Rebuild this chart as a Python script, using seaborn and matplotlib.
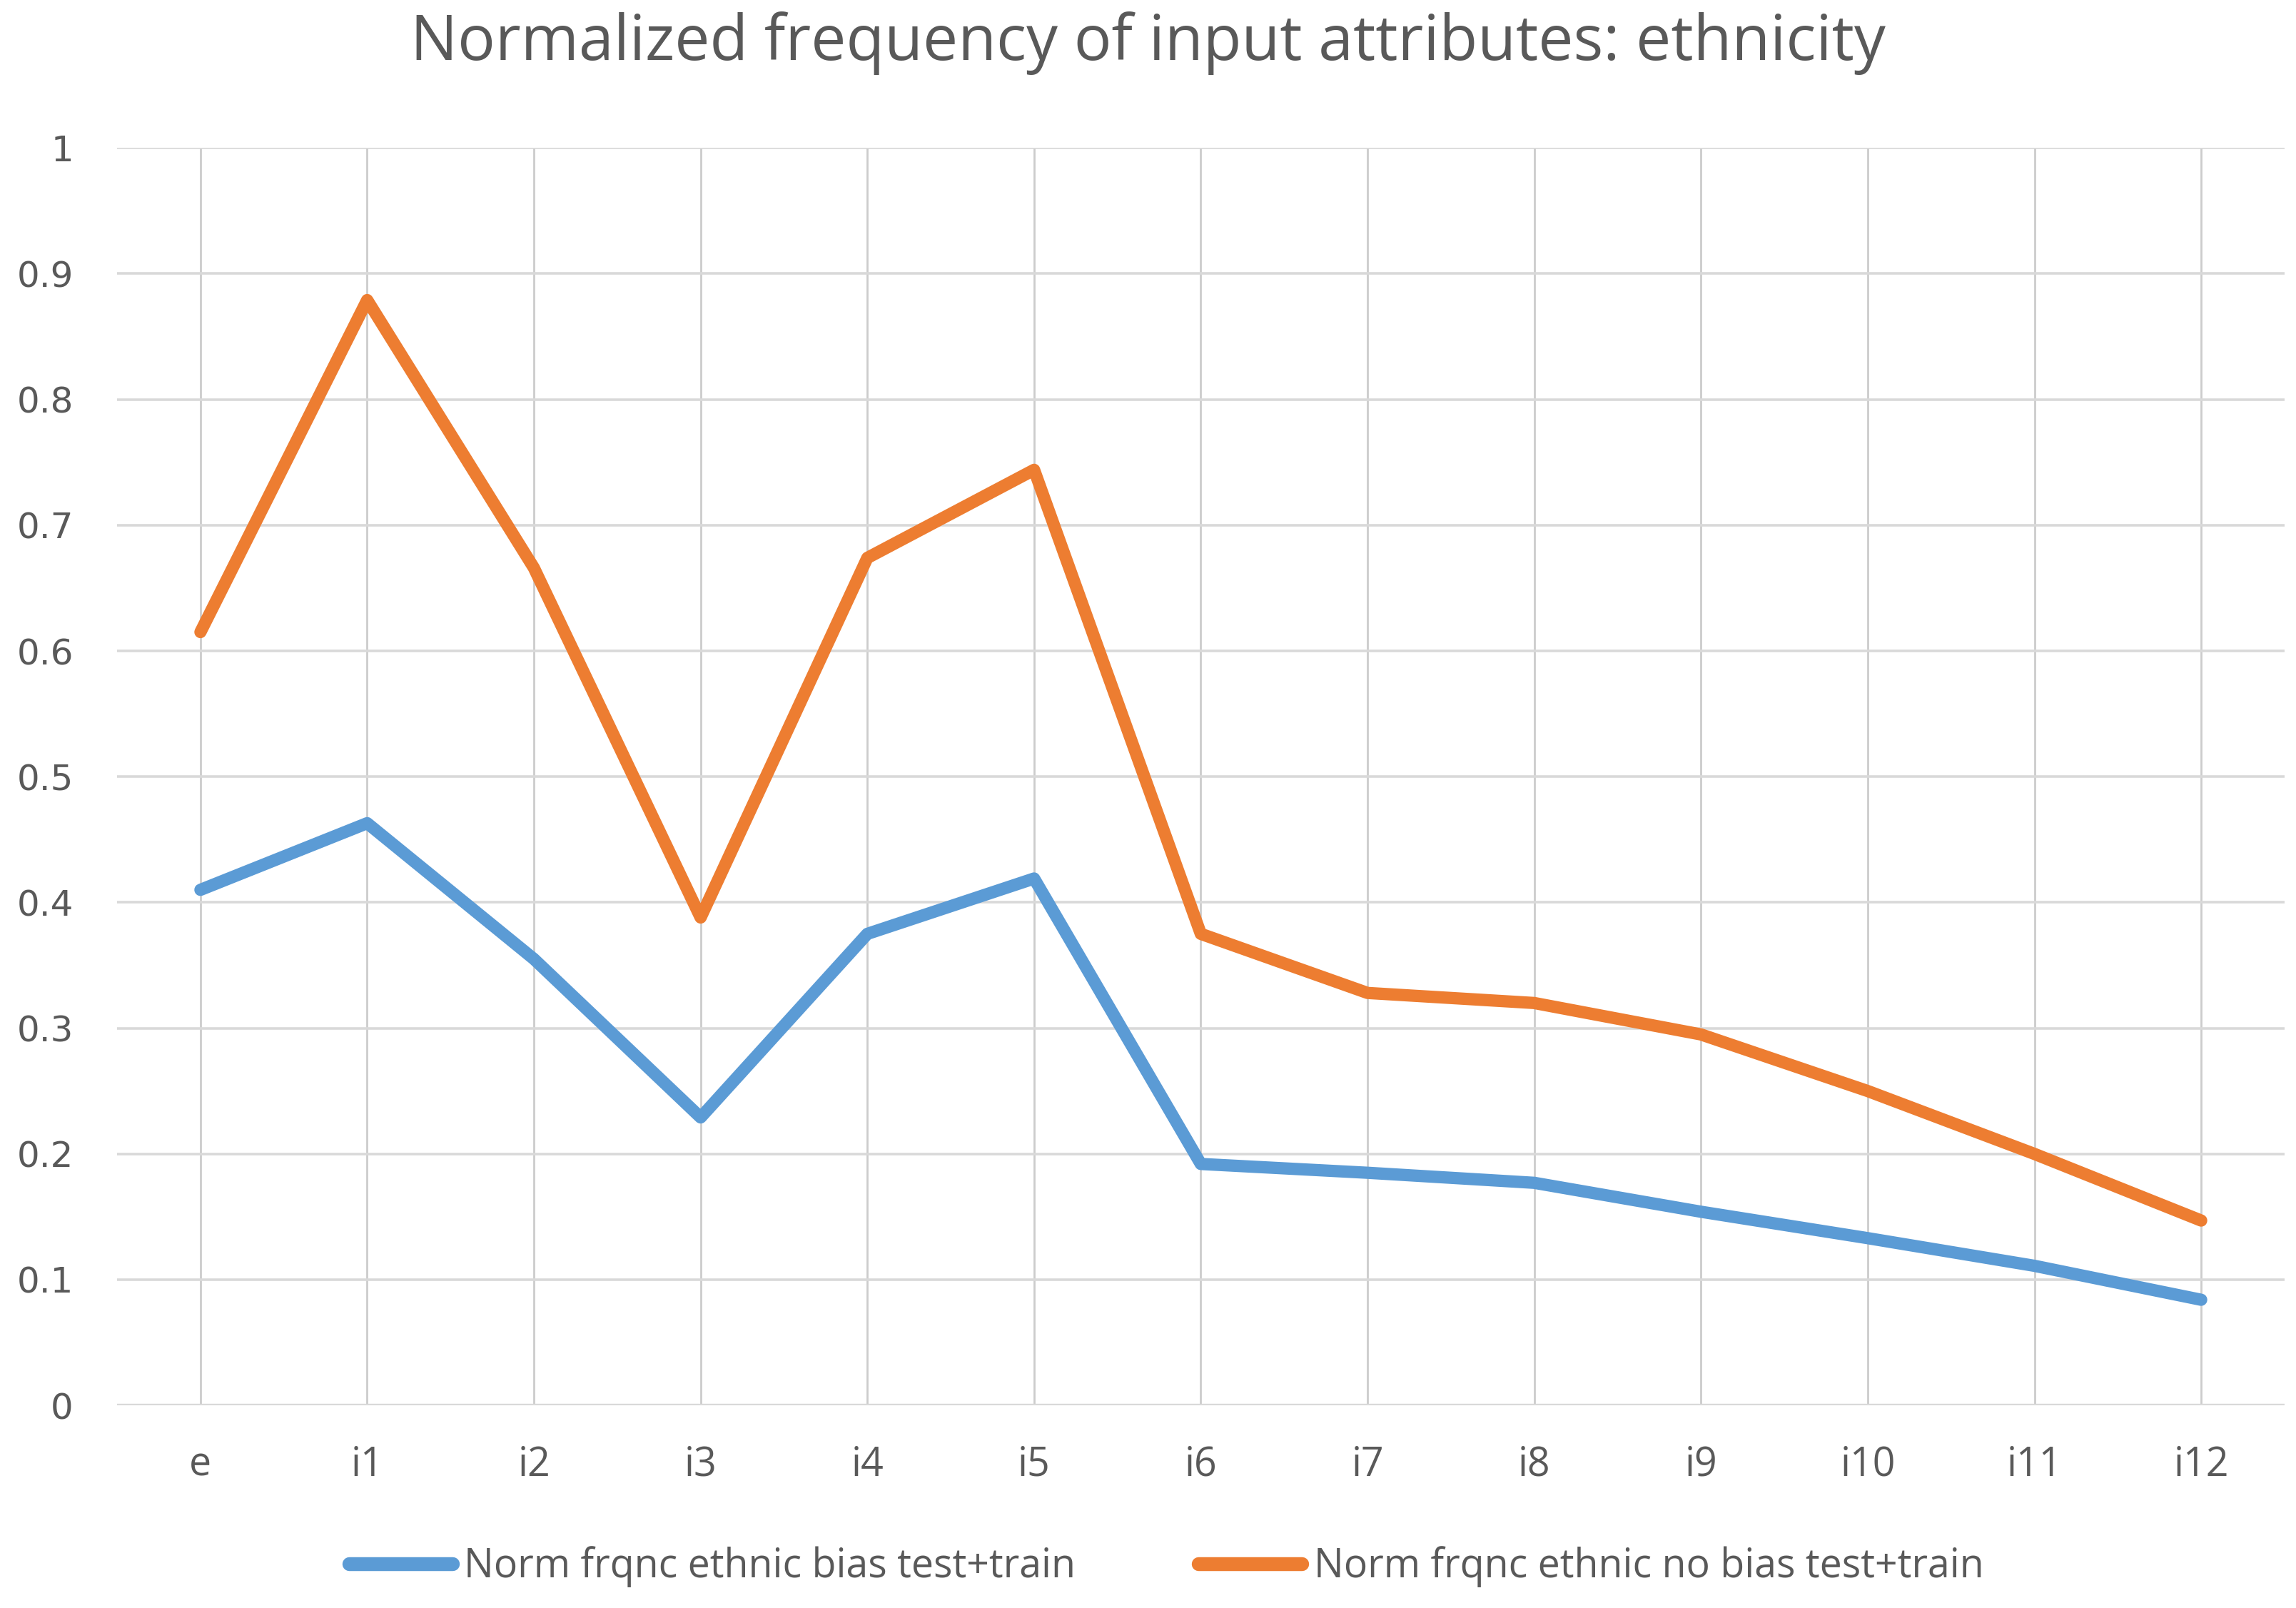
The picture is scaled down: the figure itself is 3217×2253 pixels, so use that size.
import pandas as pd
import seaborn as sns
from matplotlib import pyplot as plt

categories = ['e', 'i1', 'i2', 'i3', 'i4', 'i5', 'i6', 'i7', 'i8', 'i9', 'i10', 'i11', 'i12']
bias = [0.410, 0.463, 0.355, 0.229, 0.375, 0.419, 0.192, 0.185, 0.177, 0.154, 0.133, 0.111, 0.084]
no_bias = [0.615, 0.879, 0.666, 0.388, 0.674, 0.744, 0.375, 0.328, 0.320, 0.295, 0.250, 0.200, 0.147]
series_names = ['Norm frqnc ethnic bias test+train', 'Norm frqnc ethnic no bias test+train']
colors = ['#5B9BD5', '#ED7D31']

df = pd.DataFrame({
    'pos': list(range(len(categories))) * 2,
    'value': bias + no_bias,
    'series': [series_names[0]] * len(bias) + [series_names[1]] * len(no_bias),
})

sns.set_style('white')
plt.rcParams['font.family'] = ['Open Sans', 'DejaVu Sans']
text_color = '#595959'

fig = plt.figure(figsize=(16.085, 11.265), dpi=200)
ax = fig.add_axes([0.051, 0.126, 0.944, 0.782])

sns.lineplot(data=df, x='pos', y='value', hue='series', palette=colors,
             linewidth=6.2, ax=ax, legend=False, solid_capstyle='round',
             solid_joinstyle='round', zorder=3)

ax.set_xlim(-0.5, len(categories) - 0.5)
ax.set_ylim(0, 1)
ax.set_xticks(range(len(categories)))
ax.set_xticklabels(categories)
ax.set_yticks([i / 10 for i in range(11)])
ax.set_yticklabels(['0'] + ['0.%d' % i for i in range(1, 10)] + ['1'])
ax.tick_params(axis='x', length=0, pad=20, labelsize=20, labelcolor=text_color)
ax.tick_params(axis='y', length=0, pad=22, labelsize=18, labelcolor=text_color)
for lbl in ax.get_yticklabels():
    lbl.set_family('DejaVu Sans')
ax.set_xlabel('')
ax.set_ylabel('')

ax.grid(True, axis='y', color='#d9d9d9', linewidth=1.3)
ax.grid(True, axis='x', color='#cccccc', linewidth=1.0)
for s in ax.spines.values():
    s.set_visible(False)
ax.axhline(0, color='#d9d9d9', linewidth=1.6, zorder=2)

fig.suptitle('Normalized frequency of input attributes: ethnicity',
             y=0.973, va='center', fontsize=31.6, color=text_color)

handles = [plt.Line2D([], [], color=c, linewidth=7, solid_capstyle='round') for c in colors]
fig.legend(handles, series_names, loc='center', bbox_to_anchor=(0.508, 0.0255),
           ncol=2, frameon=False, fontsize=20, handlelength=2.6, handletextpad=0.3,
           columnspacing=3.1, labelcolor=text_color)

fig.savefig('out.png', dpi=200)
